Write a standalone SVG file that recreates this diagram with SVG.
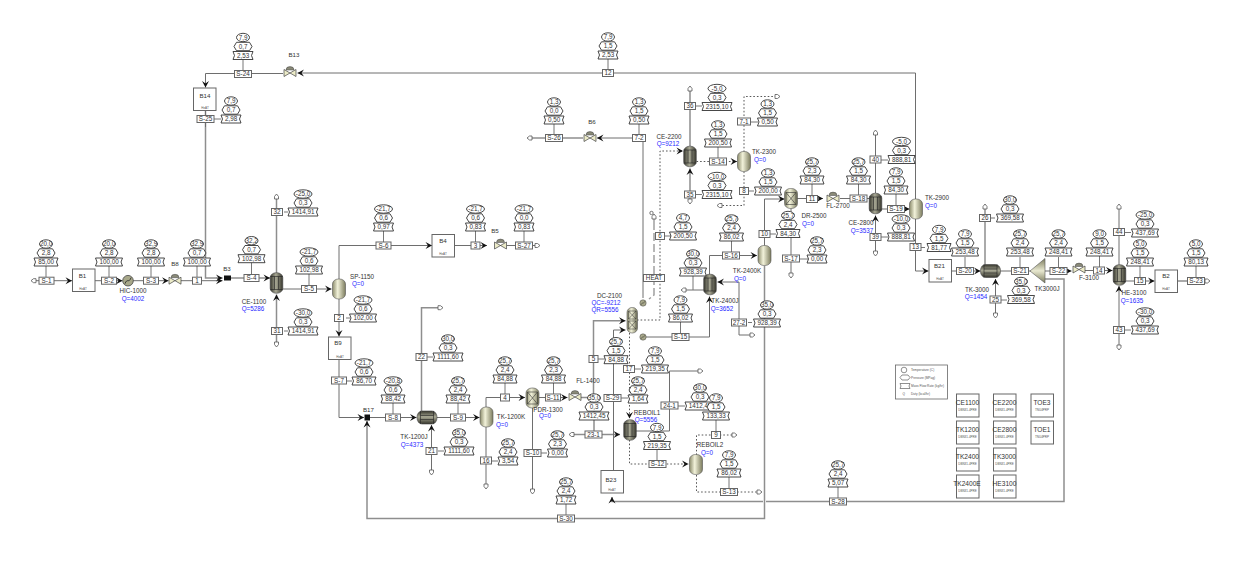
<svg xmlns="http://www.w3.org/2000/svg" width="1234" height="566" viewBox="0 0 1234 566">
<style>
text{font-family:"Liberation Sans",Arial,sans-serif;fill:#333;font-size:6.3px;text-anchor:middle}
.q{fill:#2a2aff}
.sub{font-size:3px;fill:#555}
.bl{font-size:6.2px}
.c{fill:none;stroke:#6e6e6e;stroke-width:1}
.t{fill:none;stroke:#8e8e8e;stroke-width:1.5}
.d{fill:none;stroke:#444;stroke-width:.9;stroke-dasharray:1.6 2}
.l{fill:none;stroke:#999;stroke-width:1.4;stroke-dasharray:8 3}
.st{fill:none;stroke:#777;stroke-width:1}
.sh{fill:#fff;stroke:#333;stroke-width:.9}
.tag{fill:#fff;stroke:#666;stroke-width:1}
.box{fill:#fff;stroke:#666;stroke-width:1}
.big{font-size:6.6px}
.leg{font-size:3.2px;text-anchor:start;fill:#555}
.m{fill:#111}
.e{fill:#fff;stroke:#555;stroke-width:.8}
</style>
<defs>
<linearGradient id="lv"><stop offset="0" stop-color="#8c8c6c"/><stop offset=".4" stop-color="#f2f2da"/><stop offset="1" stop-color="#7c7c5e"/></linearGradient>
<linearGradient id="dv"><stop offset="0" stop-color="#35352c"/><stop offset=".45" stop-color="#a8a894"/><stop offset="1" stop-color="#35352c"/></linearGradient>
<linearGradient id="dh" x2="0" y2="1"><stop offset="0" stop-color="#35352c"/><stop offset=".45" stop-color="#a8a894"/><stop offset="1" stop-color="#35352c"/></linearGradient>
<linearGradient id="tr" x2="0" y2="1"><stop offset="0" stop-color="#7c7c5e"/><stop offset=".5" stop-color="#e8e8d0"/><stop offset="1" stop-color="#7c7c5e"/></linearGradient>
<marker id="ar" viewBox="-7 -4 8 8" refX="0" refY="0" markerWidth="8" markerHeight="8" markerUnits="userSpaceOnUse" orient="auto"><path class="m" d="M-6.5,-3.5L0,0L-6.5,3.5L-4,0Z"/></marker>
<marker id="out" viewBox="-1 -4 8 8" refX="0" refY="0" markerWidth="8" markerHeight="8" markerUnits="userSpaceOnUse" orient="auto-start-reverse"><path class="e" d="M0,-2L2.5,-2L5,0L2.5,2L0,2Z"/></marker>
<g id="o"><polygon class="sh" points="-9,9 -6.5,4.8 6.5,4.8 9,9 6.5,13.2 -6.5,13.2"/><ellipse class="sh" rx="6.5" ry="4.2"/></g>
<g id="O"><polygon class="sh" points="-9,9 -6.5,4.8 6.5,4.8 9,9 6.5,13.2 -6.5,13.2"/><ellipse class="sh" rx="9" ry="4.2"/></g>
<path id="rs" class="sh" d="M-10,14H10L8.5,18L10,22H-10L-8.5,18Z"/>
<path id="rm" class="sh" d="M-12,14H12L10.5,18L12,22H-12L-10.5,18Z"/>
<path id="rn" class="sh" d="M-13.5,14H13.5L12,18L13.5,22H-13.5L-12,18Z"/>
<path id="rl" class="sh" d="M-15,14H15L13.5,18L15,22H-15L-13.5,18Z"/>
<rect id="g9" class="tag" x="-4.5" y="-3.5" width="9" height="7"/>
<rect id="g11" class="tag" x="-5.5" y="-3.5" width="11" height="7"/>
<rect id="g13" class="tag" x="-6.5" y="-3.5" width="13" height="7"/>
<rect id="g15" class="tag" x="-7.5" y="-3.5" width="15" height="7"/>
<rect id="g17" class="tag" x="-8.5" y="-3.5" width="17" height="7"/>
<rect id="g21" class="tag" x="-10.5" y="-3.5" width="21" height="7"/>
<g id="valve"><path d="M-4,-2A4,3.4 0 0 1 4,-2Z" fill="#8a8a78" stroke="#444" stroke-width=".5"/><path d="M-6,-2.5L6,4.5V-2.5L-6,4.5Z" fill="#ecebc8" stroke="#444" stroke-width=".7"/></g>
<rect id="lvv" x="-6.5" y="-10" width="13" height="20" rx="6" ry="5" fill="url(#lv)" stroke="#555" stroke-width=".6"/>
<g id="dvv"><rect x="-6.3" y="-10.3" width="12.6" height="20.6" rx="6" ry="5" fill="url(#dv)" stroke="#444" stroke-width=".6"/><path d="M-6.3,-6.5H6.3M-6.3,6.5H6.3M-2,-6.5V6.5M2,-6.5V6.5" stroke="#222" stroke-width=".6" fill="none"/></g>
<g id="dhv"><rect x="-10" y="-6.5" width="20" height="13" rx="5" ry="6" fill="url(#dh)" stroke="#444" stroke-width=".6"/><path d="M-6.5,-6.5V6.5M6.5,-6.5V6.5M-6.5,-2H6.5M-6.5,2H6.5" stroke="#222" stroke-width=".6" fill="none"/></g>
<g id="pvv"><rect x="-6.5" y="-10" width="13" height="20" rx="6" ry="5" fill="url(#lv)" stroke="#555" stroke-width=".6"/><path d="M-5,-6H5V6H-5ZM-5,-6L5,6M5,-6L-5,6" stroke="#333" stroke-width=".6" fill="none"/></g>
<g id="hx"><circle r="5.3" fill="#a8a88a" stroke="#444" stroke-width=".8"/><path d="M-3,3C-1,-3 1,3 3,-3" fill="none" stroke="#222" stroke-width=".8"/></g>
<g id="bx"><rect class="box" x="0" y="0" width="22.5" height="22.5"/></g>
<g id="sb"><rect class="box" x="0" y="0" width="22.5" height="23"/></g>
</defs>

<g id="connectors">
<path class="c" d="M36,280.7H72" marker-start="url(#out)" marker-end="url(#ar)"/>
<path class="c" d="M95,280.7H122.5" marker-end="url(#ar)"/>
<path class="c" d="M133,280.7H168.5" marker-end="url(#ar)"/>
<path class="c" d="M181,280.7H222.5" marker-end="url(#ar)"/>
<path class="t" d="M205.5,110V278H222.5" marker-end="url(#ar)"/>
<path class="t" d="M231,278H270" marker-end="url(#ar)"/>
<path class="t" d="M276.5,273V199" marker-end="url(#out)"/>
<path class="t" d="M276.5,342V294.5" marker-start="url(#out)" marker-end="url(#ar)"/>
<path class="c" d="M283,289H331.5" marker-end="url(#ar)"/>
<path class="c" d="M339,279V245.5H432" marker-end="url(#ar)"/>
<path class="c" d="M455,245.5H487" marker-end="url(#ar)"/>
<path class="c" d="M507,245.5H535" marker-end="url(#out)"/>
<path class="c" d="M339,299V336.5" marker-end="url(#ar)"/>
<path class="c" d="M339,359V417.5H364" marker-end="url(#ar)"/>
<path class="c" d="M370,417.5H416.5" marker-end="url(#ar)"/>
<path class="t" d="M421.5,411V307.7H438" marker-end="url(#out)"/>
<path class="c" d="M431.5,470V425" marker-start="url(#out)" marker-end="url(#ar)"/>
<path class="c" d="M436,417.5H479.5" marker-end="url(#ar)"/>
<path class="c" d="M486,407V397.5H525" marker-end="url(#ar)"/>
<path class="c" d="M486,427V484" marker-end="url(#out)"/>
<path class="c" d="M539,397.5H567.5" marker-end="url(#ar)"/>
<path class="c" d="M532.5,408V489" marker-end="url(#out)"/>
<path class="t" d="M581,397.5H593.5V320.7H625.5" marker-end="url(#ar)"/>
<path class="t" d="M574,434.5H620" marker-start="url(#out)" marker-end="url(#ar)"/>
<path class="t" d="M594,397.5V434.5"/>
<path class="c" d="M613.5,470V330H625.5" marker-end="url(#ar)"/>
<path class="t" d="M763,501.5H612V497" marker-end="url(#ar)"/>
<path class="t" d="M766,501.5H1064V279H1045"/>
<path class="t" d="M764.5,266V518.5H367V421" marker-end="url(#ar)"/>
<path class="c" d="M643,298V138H597" marker-end="url(#ar)"/>
<path class="t" d="M583,138H532" marker-end="url(#out)"/>
<path class="l" d="M654,222V295L649,299"/>
<circle cx="651.5" cy="213" r="1.7" class="e"/>
<path class="c" d="M654,222V219" marker-end="url(#out)"/>
<path class="d" d="M637,320H660V151H683" marker-end="url(#ar)"/>
<path class="t" d="M690,146V91" marker-end="url(#out)"/>
<path class="t" d="M690,199V168.5" marker-start="url(#out)" marker-end="url(#ar)"/>
<path class="d" d="M696.5,161.5H737" marker-end="url(#ar)"/>
<path class="d" d="M744,152V96.5H775" marker-end="url(#out)"/>
<path class="d" d="M744,171.5V205.5H722" marker-end="url(#out)"/>
<path class="c" d="M764.5,245.5V199H784.5" marker-end="url(#ar)"/>
<path class="c" d="M709.5,275V255.5H757" marker-end="url(#ar)"/>
<path class="c" d="M791,208V273" marker-end="url(#out)"/>
<path class="c" d="M797,198.5H823" marker-end="url(#ar)"/>
<path class="c" d="M840,198.5H869.5"/>
<path class="c" d="M875.5,193V135" marker-end="url(#out)"/>
<path class="c" d="M875.5,251V215.5" marker-start="url(#out)" marker-end="url(#ar)"/>
<path class="c" d="M881,209H909.5" marker-end="url(#ar)"/>
<path class="c" d="M915.5,199V73H297.5" marker-end="url(#ar)"/>
<path class="c" d="M283,73.5H205.5V87.5" marker-end="url(#ar)"/>
<path class="c" d="M205.5,110.5V127"/>
<path class="c" d="M915.5,219V271H928.5" marker-end="url(#ar)"/>
<path class="c" d="M951,271H980.5" marker-end="url(#ar)"/>
<path class="t" d="M985,265V209" marker-end="url(#out)"/>
<path class="c" d="M995.5,313V279" marker-start="url(#out)" marker-end="url(#ar)"/>
<path class="c" d="M1000,271H1031"/>
<path class="c" d="M1045,271H1071.5" marker-end="url(#ar)"/>
<path class="c" d="M1085,270.5H1112.5" marker-end="url(#ar)"/>
<path class="c" d="M1119,265V209" marker-end="url(#out)"/>
<path class="c" d="M1119,345V286" marker-start="url(#out)" marker-end="url(#ar)"/>
<path class="c" d="M1126,281H1154.5" marker-end="url(#ar)"/>
<path class="t" d="M1178,281H1205" marker-end="url(#out)"/>
<path class="d" d="M629.5,333V418.5" marker-end="url(#ar)"/>
<path class="d" d="M629.5,440V464H688.5" marker-end="url(#ar)"/>
<path class="c" d="M636,431H669.5V371H698" marker-end="url(#out)"/>
<path class="d" d="M696.5,455V435H732" marker-end="url(#out)"/>
<path class="d" d="M696.5,475V492H757" marker-end="url(#out)"/>
<path class="c" d="M643,337H709.5V296.5" marker-end="url(#ar)"/>
<path class="c" d="M704,290H686" marker-end="url(#out)"/>
<path class="c" d="M739,282H717.5" marker-end="url(#ar)"/>
<path class="c" d="M739,282V335H750" marker-end="url(#out)"/>
<path class="st" d="M46,266V277M109,266V277M151,266V277M197,266V277M251.5,262V274.5M284,212H288M284,331H288M309,274V285.5M383.5,231V242M475.5,231V242M524,231V242M346,318H350M347,381H352M393,403V414M427,357H433M438,451H444M458,403V414M505,383V394M492,461H498M553.5,383V394M541,453H547M598,359H606M621,398H628M635,369H641M657,450V460M678,406H685M716,420V431.5M729,477V488.5M566,504V515M838,487V498M639,124V134.5M554,124V134.5M696,106H702M696,194.500H702M718,147V158M750,122H758M748,191H754M683,236H665M731.5,241V252M693,276V290M680.5,322V333.500M748,322.500H752M770,234H776M817,259H800M812,184V195.500M858.5,184V195M881,160H888M881,237H888M896,194V205.500M921,247.500H925M965,257V267.500M990,218H995M1001,300H1007M1020,257V267.500M1058.5,257V267.500M1099.5,256V267M1124,232.500H1131M1124,330H1131M1140,266V277.500M1196,266V277.500M608,59V69.500M243,59V71M214,119H221"/>
</g>

<g id="tables">
<g transform="translate(46,244)"><use href="#o"/><use href="#rm"/><text y="2.2">20,0</text><text y="11.2">2,8</text><text y="20.2">85,00</text></g>
<g transform="translate(109,244)"><use href="#o"/><use href="#rn"/><text y="2.2">20,0</text><text y="11.2">2,8</text><text y="20.2">100,00</text></g>
<g transform="translate(151,244)"><use href="#o"/><use href="#rn"/><text y="2.2">32,9</text><text y="11.2">2,8</text><text y="20.2">100,00</text></g>
<g transform="translate(197,244)"><use href="#o"/><use href="#rn"/><text y="2.2">32,9</text><text y="11.2">0,7</text><text y="20.2">100,00</text></g>
<g transform="translate(251.500,240.700)"><use href="#o"/><use href="#rn"/><text y="2.2">32,2</text><text y="11.2">0,7</text><text y="20.2">102,98</text></g>
<g transform="translate(303,194)"><use href="#O"/><use href="#rl"/><text y="2.2">-25,0</text><text y="11.2">0,3</text><text y="20.2">1414,91</text></g>
<g transform="translate(303,313)"><use href="#O"/><use href="#rl"/><text y="2.2">-30,0</text><text y="11.2">0,3</text><text y="20.2">1414,91</text></g>
<g transform="translate(309,252)"><use href="#O"/><use href="#rn"/><text y="2.2">-21,7</text><text y="11.2">0,6</text><text y="20.2">102,98</text></g>
<g transform="translate(383.500,209)"><use href="#O"/><use href="#rs"/><text y="2.2">-21,7</text><text y="11.2">0,6</text><text y="20.2">0,97</text></g>
<g transform="translate(475.500,209)"><use href="#O"/><use href="#rs"/><text y="2.2">-21,7</text><text y="11.2">0,6</text><text y="20.2">0,83</text></g>
<g transform="translate(524,209)"><use href="#O"/><use href="#rs"/><text y="2.2">-21,7</text><text y="11.2">0,0</text><text y="20.2">0,83</text></g>
<g transform="translate(363,300)"><use href="#O"/><use href="#rn"/><text y="2.2">-21,7</text><text y="11.2">0,6</text><text y="20.2">102,00</text></g>
<g transform="translate(364,363)"><use href="#O"/><use href="#rm"/><text y="2.2">-21,7</text><text y="11.2">0,6</text><text y="20.2">86,70</text></g>
<g transform="translate(393,381)"><use href="#O"/><use href="#rm"/><text y="2.2">-20,8</text><text y="11.2">0,6</text><text y="20.2">88,42</text></g>
<g transform="translate(448,339)"><use href="#o"/><use href="#rl"/><text y="2.2">30,0</text><text y="11.2">0,3</text><text y="20.2">1111,60</text></g>
<g transform="translate(459,433)"><use href="#o"/><use href="#rl"/><text y="2.2">35,0</text><text y="11.2">0,3</text><text y="20.2">1111,60</text></g>
<g transform="translate(458,381)"><use href="#o"/><use href="#rm"/><text y="2.2">25,7</text><text y="11.2">2,4</text><text y="20.2">88,42</text></g>
<g transform="translate(505,361)"><use href="#o"/><use href="#rm"/><text y="2.2">25,7</text><text y="11.2">2,4</text><text y="20.2">84,88</text></g>
<g transform="translate(508,443)"><use href="#o"/><use href="#rs"/><text y="2.2">25,7</text><text y="11.2">2,4</text><text y="20.2">3,54</text></g>
<g transform="translate(553.500,361)"><use href="#o"/><use href="#rm"/><text y="2.2">25,7</text><text y="11.2">2,3</text><text y="20.2">84,88</text></g>
<g transform="translate(594,398)"><use href="#o"/><use href="#rl"/><text y="2.2">35,0</text><text y="11.2">0,3</text><text y="20.2">1412,45</text></g>
<g transform="translate(557.500,435)"><use href="#o"/><use href="#rs"/><text y="2.2">25,7</text><text y="11.2">2,3</text><text y="20.2">0,00</text></g>
<g transform="translate(616,341.700)"><use href="#o"/><use href="#rm"/><text y="2.2">25,7</text><text y="11.2">1,5</text><text y="20.2">84,88</text></g>
<g transform="translate(638,381)"><use href="#o"/><use href="#rs"/><text y="2.2">25,7</text><text y="11.2">2,4</text><text y="20.2">1,64</text></g>
<g transform="translate(655,351)"><use href="#o"/><use href="#rn"/><text y="2.2">7,9</text><text y="11.2">1,5</text><text y="20.2">219,35</text></g>
<g transform="translate(657,427.500)"><use href="#o"/><use href="#rn"/><text y="2.2">7,9</text><text y="11.2">1,5</text><text y="20.2">219,35</text></g>
<g transform="translate(700,388)"><use href="#o"/><use href="#rl"/><text y="2.2">30,0</text><text y="11.2">0,3</text><text y="20.2">1412,45</text></g>
<g transform="translate(716,398)"><use href="#o"/><use href="#rn"/><text y="2.2">7,9</text><text y="11.2">1,5</text><text y="20.2">133,33</text></g>
<g transform="translate(729,455)"><use href="#o"/><use href="#rm"/><text y="2.2">7,9</text><text y="11.2">1,5</text><text y="20.2">86,02</text></g>
<g transform="translate(566,482)"><use href="#o"/><use href="#rs"/><text y="2.2">25,7</text><text y="11.2">2,4</text><text y="20.2">1,72</text></g>
<g transform="translate(838,465)"><use href="#o"/><use href="#rs"/><text y="2.2">25,7</text><text y="11.2">2,4</text><text y="20.2">5,07</text></g>
<g transform="translate(639,102)"><use href="#o"/><use href="#rs"/><text y="2.2">1,3</text><text y="11.2">1,5</text><text y="20.2">0,50</text></g>
<g transform="translate(554,102)"><use href="#o"/><use href="#rs"/><text y="2.2">1,3</text><text y="11.2">0,0</text><text y="20.2">0,50</text></g>
<g transform="translate(717,88.500)"><use href="#O"/><use href="#rl"/><text y="2.2">-5,0</text><text y="11.2">0,3</text><text y="20.2">2315,10</text></g>
<g transform="translate(717,176.500)"><use href="#O"/><use href="#rl"/><text y="2.2">-10,0</text><text y="11.2">0,3</text><text y="20.2">2315,10</text></g>
<g transform="translate(718,125)"><use href="#o"/><use href="#rn"/><text y="2.2">1,3</text><text y="11.2">1,5</text><text y="20.2">200,50</text></g>
<g transform="translate(767.500,104)"><use href="#o"/><use href="#rs"/><text y="2.2">1,3</text><text y="11.2">1,5</text><text y="20.2">0,50</text></g>
<g transform="translate(768,173)"><use href="#o"/><use href="#rn"/><text y="2.2">1,3</text><text y="11.2">1,5</text><text y="20.2">200,00</text></g>
<g transform="translate(683,218)"><use href="#o"/><use href="#rn"/><text y="2.2">4,7</text><text y="11.2">1,5</text><text y="20.2">200,50</text></g>
<g transform="translate(731.500,219)"><use href="#o"/><use href="#rm"/><text y="2.2">25,7</text><text y="11.2">2,4</text><text y="20.2">86,02</text></g>
<g transform="translate(693,254)"><use href="#o"/><use href="#rn"/><text y="2.2">30,0</text><text y="11.2">0,3</text><text y="20.2">928,39</text></g>
<g transform="translate(680.500,300)"><use href="#o"/><use href="#rm"/><text y="2.2">7,9</text><text y="11.2">1,5</text><text y="20.2">86,02</text></g>
<g transform="translate(767,305)"><use href="#o"/><use href="#rn"/><text y="2.2">35,0</text><text y="11.2">0,3</text><text y="20.2">928,39</text></g>
<g transform="translate(788,215.500)"><use href="#o"/><use href="#rm"/><text y="2.2">25,7</text><text y="11.2">2,4</text><text y="20.2">84,30</text></g>
<g transform="translate(817,241)"><use href="#o"/><use href="#rs"/><text y="2.2">25,7</text><text y="11.2">2,3</text><text y="20.2">0,00</text></g>
<g transform="translate(812,162)"><use href="#o"/><use href="#rm"/><text y="2.2">25,7</text><text y="11.2">2,3</text><text y="20.2">84,30</text></g>
<g transform="translate(858.500,162)"><use href="#o"/><use href="#rm"/><text y="2.2">25,7</text><text y="11.2">1,5</text><text y="20.2">84,30</text></g>
<g transform="translate(896,172)"><use href="#o"/><use href="#rm"/><text y="2.2">7,9</text><text y="11.2">1,5</text><text y="20.2">84,30</text></g>
<g transform="translate(901.500,141.500)"><use href="#O"/><use href="#rn"/><text y="2.2">-5,0</text><text y="11.2">0,3</text><text y="20.2">888,81</text></g>
<g transform="translate(901,219)"><use href="#O"/><use href="#rn"/><text y="2.2">-10,0</text><text y="11.2">0,3</text><text y="20.2">888,81</text></g>
<g transform="translate(939,229.500)"><use href="#o"/><use href="#rm"/><text y="2.2">7,9</text><text y="11.2">1,5</text><text y="20.2">81,77</text></g>
<g transform="translate(965,234)"><use href="#o"/><use href="#rn"/><text y="2.2">7,9</text><text y="11.2">1,5</text><text y="20.2">253,48</text></g>
<g transform="translate(1010,200)"><use href="#o"/><use href="#rn"/><text y="2.2">30,0</text><text y="11.2">0,3</text><text y="20.2">369,58</text></g>
<g transform="translate(1021,281.500)"><use href="#o"/><use href="#rn"/><text y="2.2">35,0</text><text y="11.2">0,3</text><text y="20.2">369,58</text></g>
<g transform="translate(1020,234)"><use href="#o"/><use href="#rn"/><text y="2.2">25,7</text><text y="11.2">2,4</text><text y="20.2">253,48</text></g>
<g transform="translate(1058.500,234)"><use href="#o"/><use href="#rn"/><text y="2.2">25,7</text><text y="11.2">2,4</text><text y="20.2">248,41</text></g>
<g transform="translate(1099.500,234)"><use href="#o"/><use href="#rn"/><text y="2.2">9,0</text><text y="11.2">1,5</text><text y="20.2">248,41</text></g>
<g transform="translate(1145,215)"><use href="#O"/><use href="#rn"/><text y="2.2">-25,0</text><text y="11.2">0,3</text><text y="20.2">437,69</text></g>
<g transform="translate(1145,312)"><use href="#O"/><use href="#rn"/><text y="2.2">-30,0</text><text y="11.2">0,3</text><text y="20.2">437,69</text></g>
<g transform="translate(1140,244)"><use href="#o"/><use href="#rn"/><text y="2.2">5,0</text><text y="11.2">1,5</text><text y="20.2">248,41</text></g>
<g transform="translate(1196,244)"><use href="#o"/><use href="#rm"/><text y="2.2">5,0</text><text y="11.2">1,5</text><text y="20.2">80,13</text></g>
<g transform="translate(608,37)"><use href="#o"/><use href="#rs"/><text y="2.2">7,9</text><text y="11.2">1,5</text><text y="20.2">2,53</text></g>
<g transform="translate(243,37.500)"><use href="#o"/><use href="#rs"/><text y="2.2">7,9</text><text y="11.2">0,7</text><text y="20.2">2,53</text></g>
<g transform="translate(231,101)"><use href="#o"/><use href="#rs"/><text y="2.2">7,9</text><text y="11.2">0,7</text><text y="20.2">2,98</text></g>
</g>

<g id="tags">
<g transform="translate(46.500,280.700)"><use href="#g15"/><text y="2.2">S-1</text></g>
<g transform="translate(109,280.700)"><use href="#g15"/><text y="2.2">S-2</text></g>
<g transform="translate(151,280.700)"><use href="#g15"/><text y="2.2">S-3</text></g>
<g transform="translate(197,280.700)"><use href="#g9"/><text y="2.2">1</text></g>
<g transform="translate(251.500,278)"><use href="#g15"/><text y="2.2">S-4</text></g>
<g transform="translate(277,212)"><use href="#g11"/><text y="2.2">32</text></g>
<g transform="translate(277,331)"><use href="#g11"/><text y="2.2">31</text></g>
<g transform="translate(309,289)"><use href="#g15"/><text y="2.2">S-5</text></g>
<g transform="translate(383.500,245.500)"><use href="#g15"/><text y="2.2">S-6</text></g>
<g transform="translate(475.500,245.500)"><use href="#g9"/><text y="2.2">3</text></g>
<g transform="translate(524,245.500)"><use href="#g17"/><text y="2.2">S-27</text></g>
<g transform="translate(339,318)"><use href="#g9"/><text y="2.2">2</text></g>
<g transform="translate(339,380.500)"><use href="#g15"/><text y="2.2">S-7</text></g>
<g transform="translate(393,417.500)"><use href="#g15"/><text y="2.2">S-8</text></g>
<g transform="translate(421.500,357)"><use href="#g11"/><text y="2.2">22</text></g>
<g transform="translate(431.500,451)"><use href="#g11"/><text y="2.2">21</text></g>
<g transform="translate(458,417.500)"><use href="#g15"/><text y="2.2">S-9</text></g>
<g transform="translate(505,397.500)"><use href="#g9"/><text y="2.2">4</text></g>
<g transform="translate(486,460.500)"><use href="#g11"/><text y="2.2">16</text></g>
<g transform="translate(553,397.500)"><use href="#g15"/><text y="2.2">S-11</text></g>
<g transform="translate(532.500,453)"><use href="#g17"/><text y="2.2">S-10</text></g>
<g transform="translate(593.500,434.500)"><use href="#g17"/><text y="2.2">23-1</text></g>
<g transform="translate(593.500,359)"><use href="#g9"/><text y="2.2">5</text></g>
<g transform="translate(612.500,398)"><use href="#g17"/><text y="2.2">S-29</text></g>
<g transform="translate(629,369)"><use href="#g11"/><text y="2.2">17</text></g>
<g transform="translate(657.500,464)"><use href="#g17"/><text y="2.2">S-12</text></g>
<g transform="translate(669.500,405.500)"><use href="#g17"/><text y="2.2">24-1</text></g>
<g transform="translate(716,435)"><use href="#g9"/><text y="2.2">9</text></g>
<g transform="translate(729,492)"><use href="#g17"/><text y="2.2">S-13</text></g>
<g transform="translate(566,518.500)"><use href="#g17"/><text y="2.2">S-30</text></g>
<g transform="translate(838,501.500)"><use href="#g17"/><text y="2.2">S-28</text></g>
<g transform="translate(639,138)"><use href="#g13"/><text y="2.2">7-2</text></g>
<g transform="translate(554,138)"><use href="#g17"/><text y="2.2">S-26</text></g>
<g transform="translate(690,106)"><use href="#g11"/><text y="2.2">36</text></g>
<g transform="translate(690,194.500)"><use href="#g11"/><text y="2.2">35</text></g>
<g transform="translate(718,161.500)"><use href="#g17"/><text y="2.2">S-14</text></g>
<g transform="translate(744,121.500)"><use href="#g13"/><text y="2.2">7-1</text></g>
<g transform="translate(744,191)"><use href="#g9"/><text y="2.2">8</text></g>
<g transform="translate(660,236)"><use href="#g9"/><text y="2.2">6</text></g>
<g transform="translate(654,278)"><use href="#g21"/><text y="2.2">HEAT</text></g>
<g transform="translate(731,255.500)"><use href="#g17"/><text y="2.2">S-16</text></g>
<g transform="translate(680.500,337)"><use href="#g17"/><text y="2.2">S-15</text></g>
<g transform="translate(739,322.500)"><use href="#g15"/><text y="2.2">27-2</text></g>
<g transform="translate(764.500,234)"><use href="#g11"/><text y="2.2">10</text></g>
<g transform="translate(791,258.500)"><use href="#g17"/><text y="2.2">S-17</text></g>
<g transform="translate(812,199)"><use href="#g11"/><text y="2.2">11</text></g>
<g transform="translate(858.500,198.500)"><use href="#g17"/><text y="2.2">S-18</text></g>
<g transform="translate(875.500,159.500)"><use href="#g11"/><text y="2.2">40</text></g>
<g transform="translate(875.500,237)"><use href="#g11"/><text y="2.2">39</text></g>
<g transform="translate(896,209)"><use href="#g17"/><text y="2.2">S-19</text></g>
<g transform="translate(915.500,247)"><use href="#g11"/><text y="2.2">13</text></g>
<g transform="translate(965,271)"><use href="#g17"/><text y="2.2">S-20</text></g>
<g transform="translate(985,218)"><use href="#g11"/><text y="2.2">26</text></g>
<g transform="translate(995.500,299.500)"><use href="#g11"/><text y="2.2">25</text></g>
<g transform="translate(1020,271)"><use href="#g17"/><text y="2.2">S-21</text></g>
<g transform="translate(1058.500,271)"><use href="#g17"/><text y="2.2">S-22</text></g>
<g transform="translate(1099,270.500)"><use href="#g11"/><text y="2.2">14</text></g>
<g transform="translate(1119,232)"><use href="#g11"/><text y="2.2">44</text></g>
<g transform="translate(1119,330)"><use href="#g11"/><text y="2.2">43</text></g>
<g transform="translate(1140,281)"><use href="#g11"/><text y="2.2">15</text></g>
<g transform="translate(1196,281)"><use href="#g17"/><text y="2.2">S-23</text></g>
<g transform="translate(608,73)"><use href="#g11"/><text y="2.2">12</text></g>
<g transform="translate(243,74)"><use href="#g17"/><text y="2.2">S-24</text></g>
<g transform="translate(205.500,119)"><use href="#g17"/><text y="2.2">S-25</text></g>
</g>

<g id="B1"><use href="#bx" x="72.500" y="269"/><text class="bl" x="82.500" y="278">B1</text><text class="sub" x="83" y="289.500">HeAT</text></g>
<g id="HIC-1000"><use href="#hx" x="128" y="280.700"/><text x="133" y="292.700">HIC-1000</text><text class="q" x="133" y="301">Q=4002</text></g>
<g id="B8"><use href="#valve" x="175" y="279.700"/><text class="bl" x="175" y="265.700">B8</text></g>
<g id="B3"><path d="M224,275.500H231V280.500H224Z" fill="#111"/><text class="bl" x="227" y="270.700">B3</text></g>
<g id="CE-1100"><use href="#dvv" x="276.500" y="283"/><text x="254" y="303.700">CE-1100</text><text class="q" x="253" y="310.700">Q=5286</text></g>
<g id="SP-1150"><use href="#lvv" x="339" y="289"/><text x="362" y="279.200">SP-1150</text><text class="q" x="358" y="285.700">Q=0</text></g>
<g id="B4"><use href="#bx" x="432" y="234.500"/><text class="bl" x="443" y="243.200">B4</text><text class="sub" x="443" y="255">HeAT</text></g>
<g id="B5"><use href="#valve" x="500.500" y="244.500"/><text class="bl" x="495" y="233.200">B5</text></g>
<g id="B9"><use href="#bx" x="328.500" y="337"/><text class="bl" x="338" y="345.200">B9</text><text class="sub" x="340" y="357.500">HeAT</text></g>
<g id="B17"><path d="M364.500,414.500H370V420.500H364.500Z" fill="#111"/><text class="bl" x="368.500" y="412.200">B17</text></g>
<g id="TK-1200J"><use href="#dhv" x="427" y="417.500"/><text x="414" y="439.200">TK-1200J</text><text class="q" x="412" y="446.700">Q=4373</text></g>
<g id="TK-1200K"><use href="#lvv" x="486.500" y="417"/><text x="511" y="419.200">TK-1200K</text><text class="q" x="502" y="426.700">Q=0</text></g>
<g id="PDR-1300"><use href="#pvv" x="532.500" y="398"/><text x="548" y="411.700">PDR-1300</text><text class="q" x="545" y="418.200">Q=0</text></g>
<g id="FL-1400"><use href="#valve" x="575" y="396"/><text x="588" y="382.700">FL-1400</text></g>
<g id="DC-2100"><rect x="627" y="307.500" width="10.500" height="25.500" rx="5" fill="url(#lv)" stroke="#555" stroke-width=".6"/><path d="M628.500,311H636V319H628.500ZM628.500,311L636,319M636,311L628.500,319M628.500,321H636V329H628.500ZM628.500,321L636,329M636,321L628.500,329" fill="none" stroke="#333" stroke-width=".5"/><use href="#hx" transform="translate(643,303) scale(.6)"/><use href="#hx" transform="translate(643,337) scale(.6)"/><text x="609.500" y="297.700">DC-2100</text><text class="q" x="606" y="305.200">QC=-9212</text><text class="q" x="605" y="312">QR=5556</text></g>
<g id="REBOIL1"><use href="#dvv" x="630" y="430"/><text x="647" y="414.700">REBOIL1</text><text class="q" x="646" y="422.200">Q=5556</text></g>
<g id="REBOIL2"><use href="#lvv" x="696" y="464.500"/><text x="710" y="447.200">REBOIL2</text><text class="q" x="707" y="454.700">Q=0</text></g>
<g id="B23"><use href="#bx" x="601" y="470.500"/><text class="bl" x="611" y="482.200">B23</text><text class="sub" x="612" y="491">HeAT</text></g>
<g id="B6"><use href="#valve" x="590" y="137"/><text class="bl" x="592" y="124.200">B6</text></g>
<g id="CE-2200"><use href="#dvv" x="690" y="156.500"/><text x="669" y="138.700">CE-2200</text><text class="q" x="668" y="145.700">Q=9212</text></g>
<g id="TK-2300"><use href="#lvv" x="744" y="161.500"/><text x="764" y="153.700">TK-2300</text><text class="q" x="760" y="161.700">Q=0</text></g>
<g id="TK-2400J"><use href="#dvv" x="710" y="284.500"/><text x="725" y="302.700">TK-2400J</text><text class="q" x="722" y="310.700">Q=3652</text></g>
<g id="TK-2400K"><use href="#lvv" x="764.500" y="255.500"/><text x="747" y="273.200">TK-2400K</text><text class="q" x="740" y="280.700">Q=0</text></g>
<g id="DR-2500"><use href="#pvv" x="791" y="198.500"/><text x="814" y="218.200">DR-2500</text><text class="q" x="808" y="226.200">Q=0</text></g>
<g id="FL-2700"><use href="#valve" x="833" y="197.500"/><text x="838" y="208.200">FL-2700</text></g>
<g id="CE-2800"><use href="#dvv" x="875.500" y="203.500"/><text x="861" y="225.200">CE-2800</text><text class="q" x="862" y="232.700">Q=3537</text></g>
<g id="TK-2900"><use href="#lvv" x="916" y="209"/><text x="937" y="199.700">TK-2900</text><text class="q" x="931" y="208.200">Q=0</text></g>
<g id="B21"><use href="#bx" x="929" y="259.500"/><text class="bl" x="939.500" y="268.200">B21</text><text class="sub" x="940" y="280">HeAT</text></g>
<g id="TK-3000"><use href="#dhv" x="990.500" y="271"/><text x="977" y="292.200">TK-3000</text><text class="q" x="976" y="298.700">Q=1454</text></g>
<g id="TK3000J"><polygon points="1030,271 1045,258.500 1045,283" fill="url(#tr)" stroke="#555" stroke-width=".6"/><text x="1047" y="290.700">TK3000J</text></g>
<g id="F-3100"><use href="#valve" x="1079" y="268.500"/><text x="1089" y="280.200">F-3100</text></g>
<g id="HE-3100"><use href="#dvv" x="1119.500" y="275"/><text x="1134" y="295.200">HE-3100</text><text class="q" x="1132" y="302.700">Q=1635</text></g>
<g id="B2"><use href="#bx" x="1155" y="270"/><text class="bl" x="1166" y="278.200">B2</text><text class="sub" x="1166" y="290">HeAT</text></g>
<g id="B13"><use href="#valve" x="290" y="72"/><text class="bl" x="294" y="56.700">B13</text></g>
<g id="B14"><use href="#bx" x="193.500" y="88"/><text class="bl" x="205" y="98.200">B14</text><text class="sub" x="205" y="109">HeAT</text></g>

<g id="legend"><rect x="895.500" y="365" width="52" height="34" fill="#fff" stroke="#666" stroke-width=".8"/>
<circle cx="904" cy="370" r="2.8" fill="#fff" stroke="#444" stroke-width=".6"/>
<polygon points="900,377.500 902,375 908,375 910,377.500 908,380 902,380" fill="#fff" stroke="#444" stroke-width=".6"/>
<path d="M900,383.500H910L909,386L910,388.500H900L901,386Z" fill="#fff" stroke="#444" stroke-width=".6"/>
<text class="leg" x="902.500" y="394.500">Q</text>
<text class="leg" x="911" y="371">Temperature (C)</text><text class="leg" x="911" y="378.500">Pressure (MPag)</text><text class="leg" x="911" y="386.500">Mass Flow Rate (kg/hr)</text><text class="leg" x="911" y="394.500">Duty (kcal/hr)</text></g>
<g id="CE1100"><use href="#sb" x="956.500" y="394"/><text class="big" x="967.500" y="405">CE1100</text><text class="sub" x="967.500" y="410.500">DBN31-4PRE</text></g>
<g id="TK1200"><use href="#sb" x="956.500" y="421"/><text class="big" x="967.500" y="432">TK1200</text><text class="sub" x="967.500" y="437.500">DBN31-4PRE</text></g>
<g id="TK2400"><use href="#sb" x="956.500" y="448"/><text class="big" x="967.500" y="459">TK2400</text><text class="sub" x="967.500" y="464.500">DBN31-4PRE</text></g>
<g id="TK2400E"><use href="#sb" x="956.500" y="475"/><text class="big" x="967" y="486">TK2400E</text><text class="sub" x="967.500" y="491.500">DBN31-4PRE</text></g>
<g id="CE2200"><use href="#sb" x="993.500" y="394"/><text class="big" x="1004.500" y="405">CE2200</text><text class="sub" x="1004.500" y="410.500">DBN31-4PRE</text></g>
<g id="CE2800"><use href="#sb" x="993.500" y="421"/><text class="big" x="1004.500" y="432">CE2800</text><text class="sub" x="1004.500" y="437.500">DBN31-4PRE</text></g>
<g id="TK3000"><use href="#sb" x="993.500" y="448"/><text class="big" x="1004.500" y="459">TK3000</text><text class="sub" x="1004.500" y="464.500">DBN31-4PRE</text></g>
<g id="HE3100"><use href="#sb" x="993.500" y="475"/><text class="big" x="1004.500" y="486">HE3100</text><text class="sub" x="1004.500" y="491.500">DBN31-4PRE</text></g>
<g id="TOE3"><use href="#sb" x="1031" y="394"/><text class="big" x="1042" y="405">TOE3</text><text class="sub" x="1042" y="410.500">TNU4PRP</text></g>
<g id="TOE1"><use href="#sb" x="1031" y="421"/><text class="big" x="1042" y="432">TOE1</text><text class="sub" x="1042" y="437.500">TNU4PRP</text></g>
</svg>
